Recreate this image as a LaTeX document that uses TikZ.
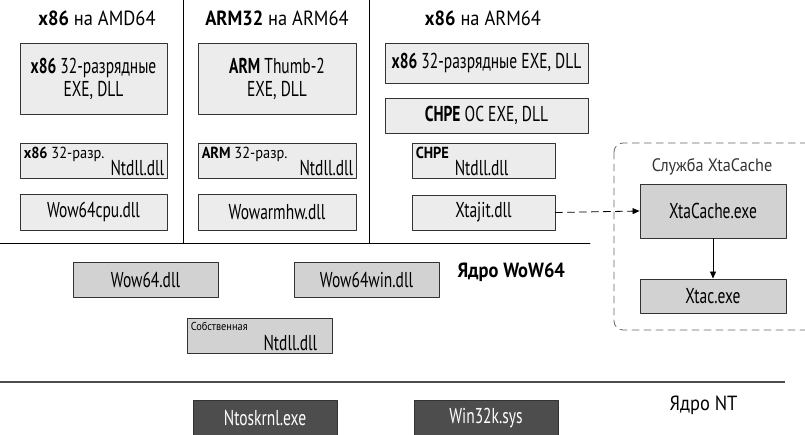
\documentclass[tikz,border=0pt]{standalone}
\usepackage{fontspec}
\setmainfont{PT Sans}[FakeStretch=0.72]
\newfontfamily\widefont{PT Sans}[FakeStretch=0.9]
\usetikzlibrary{arrows.meta}

\definecolor{boxlight}{HTML}{ECECEC}
\definecolor{boxmid}{HTML}{D2D2D2}
\definecolor{boxdark}{HTML}{4D4D4D}
\definecolor{rimgray}{HTML}{333333}

\tikzset{
  lib/.style={draw=rimgray,line width=0.9pt,inner sep=0pt,align=center,
    font=\fontsize{21.5}{23}\selectfont},
  upbox/.style={lib,fill=boxlight},
  wowbox/.style={lib,fill=boxmid},
  ntbox/.style={lib,fill=boxdark,text=white},
  tagtext/.style={inner sep=4pt,font=\widefont\fontsize{16}{18}\selectfont},
  bigtext/.style={inner xsep=3pt,inner ysep=2pt,font=\fontsize{21.5}{23}\selectfont},
  coltitle/.style={font=\widefont\fontsize{20.5}{23}\selectfont},
}

\begin{document}
\begin{tikzpicture}[x=1pt,y=-1pt,line cap=round,line join=round]
  \useasboundingbox (0,0) rectangle (805,434);

  % column headers
  \node[coltitle] (hdA) at (97,18) {\textbf{x86} на AMD64};
  \node[coltitle] (hdB) at (277,18) {\textbf{ARM32} на ARM64};
  \node[coltitle] (hdC) at (483,18) {\textbf{x86} на ARM64};

  % x86 on AMD64
  \node[upbox,minimum width=147,minimum height=71] (exeA) at (93.5,78.5) {\textbf{x86} 32-разрядные\\EXE, DLL};
  \node[upbox,minimum width=147,minimum height=35] (ntdllA) at (93.5,160.5) {};
  \node[tagtext,anchor=north west] (ntdllAtag) at (ntdllA.north west) {\textbf{x86} 32-разр.};
  \node[bigtext,anchor=south east] (ntdllAtx) at (ntdllA.south east) {Ntdll.dll};
  \node[upbox,minimum width=147,minimum height=36] (cpuA) at (93.5,212) {Wow64cpu.dll};

  % ARM32 on ARM64
  \node[upbox,minimum width=158,minimum height=71] (exeB) at (277,78.5) {\textbf{ARM} Thumb-2\\EXE, DLL};
  \node[upbox,minimum width=158,minimum height=35] (ntdllB) at (277,160.5) {};
  \node[tagtext,anchor=north west] (ntdllBtag) at (ntdllB.north west) {\textbf{ARM} 32-разр.};
  \node[bigtext,anchor=south east] (ntdllBtx) at (ntdllB.south east) {Ntdll.dll};
  \node[upbox,minimum width=158,minimum height=36] (hwB) at (277,212) {Wowarmhw.dll};

  % x86 on ARM64
  \node[upbox,minimum width=203,minimum height=40] (exeC) at (486.5,63) {\textbf{x86} 32-разрядные EXE, DLL};
  \node[upbox,minimum width=203,minimum height=35] (chpeC) at (486.5,115.5) {\textbf{CHPE} ОС EXE, DLL};
  \node[upbox,minimum width=143,minimum height=35] (ntdllC) at (483.5,160.5) {};
  \node[tagtext,anchor=north west] (ntdllCtag) at (ntdllC.north west) {\textbf{CHPE}};
  \node[bigtext,anchor=south west] (ntdllCtx) at ([xshift=40]ntdllC.south west) {Ntdll.dll};
  \node[upbox,minimum width=143,minimum height=35] (jitC) at (483.5,212.5) {Xtajit.dll};

  % XtaCache service
  \draw[rimgray!75,line width=0.8pt,dash pattern=on 7pt off 5pt,rounded corners=9pt]
    (614,143) rectangle (840,330);
  \node[coltitle,text=rimgray,font=\widefont\fontsize{18}{20}\selectfont] (svc) at (712,167) {Служба XtaCache};
  \node[wowbox,minimum width=146,minimum height=54] (cache) at (713,211) {XtaCache.exe};
  \node[wowbox,minimum width=146,minimum height=34] (xtac) at (713,296) {Xtac.exe};
  \draw[line width=0.8pt,dash pattern=on 7pt off 5pt,-{Triangle[length=7pt,width=6pt]}]
    (jitC.east) -- (cache.west);
  \draw[line width=0.8pt,-{Triangle[length=7pt,width=6pt]}] (cache.south) -- (xtac.north);

  % separators
  \draw[line width=0.8pt] (183,0) -- (183,243);
  \draw[line width=0.8pt] (369,0) -- (369,243);
  \draw[line width=0.8pt] (0,243) -- (590,243);
  \draw[boxdark,line width=2.8pt,line cap=butt] (0,382) -- (785,382);

  % WoW64 layer
  \node[coltitle,anchor=west] (wowcore) at (454,272) {\textbf{Ядро WoW64}};
  \node[wowbox,minimum width=145,minimum height=35] (wow64) at (145.5,279.5) {Wow64.dll};
  \node[wowbox,minimum width=145,minimum height=35] (wow64win) at (366.5,279.5) {Wow64win.dll};
  \node[wowbox,minimum width=145,minimum height=35] (native) at (259.5,335.5) {};
  \node[tagtext,anchor=north west,font=\widefont\fontsize{11.5}{13}\selectfont] (nativetag) at (native.north west) {Собственная};
  \node[bigtext,anchor=south east] (nativetx) at ([xshift=-12]native.south east) {Ntdll.dll};

  % NT kernel
  \node[coltitle,anchor=west] (ntcore) at (666,405) {Ядро NT};
  \node[ntbox,minimum width=144,minimum height=36] (ntos) at (265,418) {Ntoskrnl.exe};
  \node[ntbox,minimum width=144,minimum height=36] (win32k) at (486,418) {Win32k.sys};
\end{tikzpicture}
\end{document}
